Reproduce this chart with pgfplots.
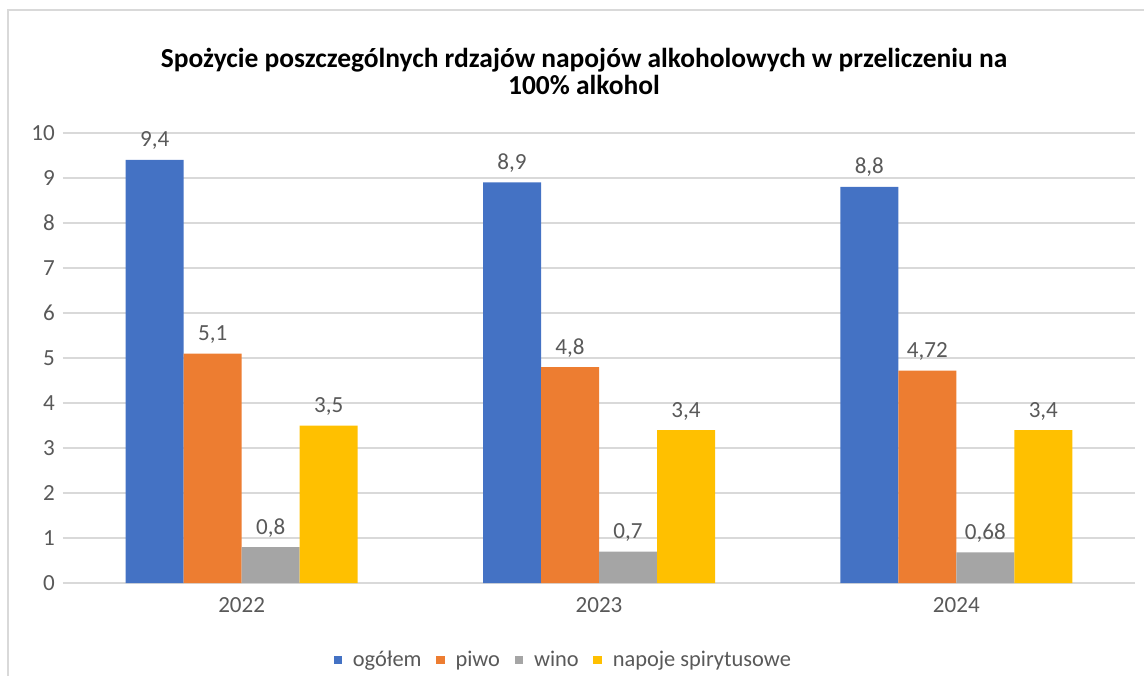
\documentclass[border=0pt]{standalone}
\usepackage{pgfplots}
\pgfplotsset{compat=1.18}
\usepackage{fontspec}
\setmainfont{Carlito}
\definecolor{cBlue}{HTML}{4472C4}
\definecolor{cOrange}{HTML}{ED7D31}
\definecolor{cGray}{HTML}{A5A5A5}
\definecolor{cYellow}{HTML}{FFC000}
\definecolor{cText}{HTML}{595959}
\definecolor{cGrid}{HTML}{D9D9D9}
\begin{document}
\begin{tikzpicture}
\useasboundingbox (-47.25pt,-69pt) rectangle (810.75pt,437.25pt);
\draw[cGrid, line width=1.1pt] (-41.25pt,-80pt) -- (-41.25pt,429.75pt) -- (830pt,429.75pt);
\begin{axis}[
  at={(0pt,0pt)}, anchor=south west,
  scale only axis, width=804pt, height=337.5pt,
  ybar=0pt, bar width=43.5pt,
  xmin=-0.5, xmax=2.5, ymin=0, ymax=10,
  xtick={0,1,2}, xticklabels={2022,2023,2024},
  ytick={0,1,...,10},
  ymajorgrids, grid style={cGrid, line width=1.1pt},
  axis line style={draw=none},
  major tick length=0pt,
  tick label style={font=\fontsize{17.3}{20}\selectfont, text=cText},
  xticklabel style={anchor=north, inner sep=0pt, yshift=-10.5pt},
  yticklabel style={anchor=east, inner sep=0pt, xshift=-6pt},
  /pgf/number format/assume math mode=true,
  /pgf/number format/use comma,
  nodes near coords,
  nodes near coords style={font=\fontsize{17.3}{20}\selectfont, text=cText, anchor=base, inner sep=0pt, yshift=9.75pt,
    /pgf/number format/assume math mode=true, /pgf/number format/use comma},
  legend style={at={(axis description cs:0.467,-0.171)}, anchor=center, legend columns=-1, draw=none,
    font=\fontsize{16.8}{19}\selectfont, text=cText,
    /tikz/every even column/.append style={column sep=9pt}},
  legend image code/.code={\path[#1] (0pt,-3.2pt) rectangle (6.4pt,3.2pt); \path (12.5pt,0pt);},
]
\addplot[fill=cBlue, draw=none] coordinates {(0,9.4) (1,8.9) (2,8.8)};
\addplot[fill=cOrange, draw=none] coordinates {(0,5.1) (1,4.8) (2,4.72)};
\addplot[fill=cGray, draw=none] coordinates {(0,0.8) (1,0.7) (2,0.68)};
\addplot[fill=cYellow, draw=none] coordinates {(0,3.5) (1,3.4) (2,3.4)};
\legend{ogółem, piwo, wino, napoje spirytusowe}
\end{axis}
\node[font=\bfseries\fontsize{20.6}{24}\selectfont, align=center, inner sep=0pt] at (390.75pt,383.6pt)
  {Spożycie poszczególnych rdzajów napojów alkoholowych w przeliczeniu na\\[-4pt]100\% alkohol};
\end{tikzpicture}
\end{document}
